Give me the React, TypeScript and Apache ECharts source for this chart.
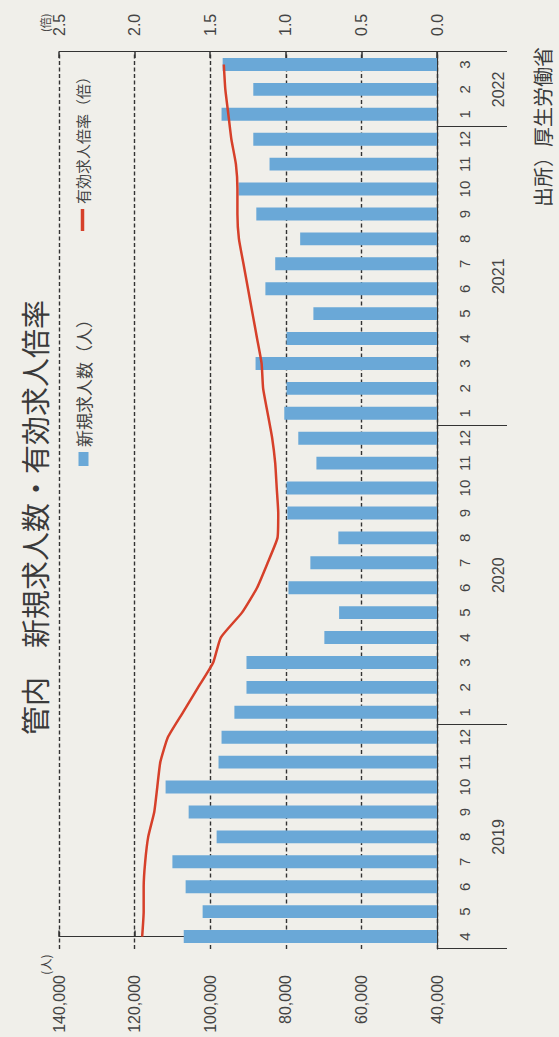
import React, { useEffect, useRef } from 'react';
import * as echarts from 'echarts';

// ---- data ----
const categories = [
  '2019/4', '2019/5', '2019/6', '2019/7', '2019/8', '2019/9', '2019/10', '2019/11', '2019/12',
  '2020/1', '2020/2', '2020/3', '2020/4', '2020/5', '2020/6', '2020/7', '2020/8', '2020/9', '2020/10', '2020/11', '2020/12',
  '2021/1', '2021/2', '2021/3', '2021/4', '2021/5', '2021/6', '2021/7', '2021/8', '2021/9', '2021/10', '2021/11', '2021/12',
  '2022/1', '2022/2', '2022/3',
];

// 新規求人数（人）
const newJobOffers = [
  107000, 102000, 106500, 110000, 98300, 105700, 111800, 97800, 97000,
  93600, 90400, 90400, 69800, 65900, 79300, 73500, 66100, 79600, 79800, 71900, 76700,
  80400, 79800, 88000, 79800, 72700, 85400, 82800, 76200, 87800, 92500, 84300, 88600,
  97000, 88600, 96700,
];

// 有効求人倍率（倍）
const jobsRatio = [
  1.95, 1.94, 1.94, 1.93, 1.91, 1.87, 1.85, 1.83, 1.78,
  1.68, 1.58, 1.48, 1.43, 1.29, 1.19, 1.12, 1.055, 1.05, 1.06, 1.07, 1.09,
  1.12, 1.15, 1.16, 1.19, 1.22, 1.25, 1.28, 1.31, 1.32, 1.32, 1.33, 1.36,
  1.38, 1.40, 1.41,
];

const personsAxis = { min: 40000, max: 140000, step: 20000 };
const ratioAxis = { min: 0, max: 2.5, step: 0.5 };

const titleText = '管内　新規求人数・有効求人倍率';
const sourceText = '出所）厚生労働省';
const seriesNames = ['新規求人数（人）', '有効求人倍率（倍）'];

// derived helpers
const monthLabels = categories.map((c) => c.split('/')[1]);
const yearOf = categories.map((c) => c.split('/')[0]);
const years = Array.from(new Set(yearOf));
const yearCenters = years.map((y) => {
  const first = yearOf.indexOf(y);
  const last = yearOf.lastIndexOf(y);
  return (first + last) / 2;
});
const yearSeparators = [
  ...years.map((y) => yearOf.indexOf(y) - 0.5),
  categories.length - 0.5,
];

const W = 1037;
const H = 559;
const INK = '#333';
const LABEL = '#444';
const NUM_FONT = '"Liberation Sans", Arial, sans-serif';
const JP_FONT = '"Noto Sans CJK JP", sans-serif';

export default function App() {
  const ref = useRef<HTMLDivElement>(null);

  useEffect(() => {
    if (!ref.current) return;
    const chart = echarts.init(ref.current, undefined, { renderer: 'svg', width: W, height: H });
    chart.setOption({
      animation: false,
      backgroundColor: '#f0efea',
      title: [
        {
          text: titleText,
          left: 297,
          top: 14,
          textStyle: { fontSize: 29, fontWeight: 'normal', color: '#3a3a3a', fontFamily: JP_FONT },
        },
        {
          text: sourceText,
          right: 42,
          top: 527,
          textStyle: { fontSize: 20, fontWeight: 'normal', color: '#3a3a3a', fontFamily: JP_FONT },
        },
      ],
      legend: [
        {
          data: [seriesNames[0]],
          left: 566,
          top: 70,
          icon: 'rect',
          itemWidth: 14,
          itemHeight: 10,
          textStyle: { fontSize: 17, color: LABEL, fontFamily: JP_FONT },
        },
        {
          data: [seriesNames[1]],
          left: 801,
          top: 70,
          icon: 'rect',
          itemWidth: 22,
          itemHeight: 3.5,
          textStyle: { fontSize: 15, color: LABEL, fontFamily: JP_FONT },
        },
      ],
      grid: { left: 88, right: 52, top: 59, bottom: 122, containLabel: false },
      xAxis: [
        {
          type: 'category',
          data: categories,
          position: 'bottom',
          axisLine: { show: true, onZero: false, lineStyle: { color: INK, width: 1.2 } },
          axisTick: { show: false },
          axisLabel: {
            interval: 0,
            margin: 20,
            fontSize: 15,
            color: LABEL,
            fontFamily: NUM_FONT,
            formatter: (_v: string, i: number) => monthLabels[i],
          },
          splitLine: { show: false },
        },
        {
          type: 'value',
          position: 'bottom',
          min: -0.5,
          max: categories.length - 0.5,
          axisLine: { show: false, onZero: false },
          splitLine: { show: false },
          axisTick: {
            show: true,
            customValues: yearSeparators,
            length: 70,
            lineStyle: { color: INK, width: 1.2 },
          },
          axisLabel: {
            show: true,
            customValues: yearCenters,
            margin: 53,
            fontSize: 16,
            color: LABEL,
            fontFamily: NUM_FONT,
            formatter: (v: number) => {
              const k = yearCenters.findIndex((c) => Math.abs(c - v) < 1e-6);
              return k >= 0 ? years[k] : '';
            },
          },
        },
      ],
      yAxis: [
        {
          type: 'value',
          min: personsAxis.min,
          max: personsAxis.max,
          interval: personsAxis.step,
          name: '(人)',
          nameLocation: 'end',
          nameGap: 7,
          nameTextStyle: { fontSize: 12, color: LABEL, align: 'right', padding: [0, 18, 0, 0], fontFamily: JP_FONT },
          axisLine: { show: true, lineStyle: { color: INK, width: 1.2 } },
          axisTick: { show: true, inside: true, length: 6, lineStyle: { color: INK, width: 1.5 } },
          axisLabel: {
            margin: 26,
            fontSize: 16,
            color: LABEL,
            fontFamily: NUM_FONT,
            formatter: (v: number) => v.toLocaleString('en-US'),
          },
          splitLine: { show: true, lineStyle: { color: INK, width: 1.4, type: [4, 2.5] } },
        },
        {
          type: 'value',
          min: ratioAxis.min,
          max: ratioAxis.max,
          interval: ratioAxis.step,
          position: 'right',
          name: '(倍)',
          nameLocation: 'end',
          nameGap: 9,
          nameTextStyle: { fontSize: 11, color: LABEL, align: 'left', padding: [0, 0, 0, 20], fontFamily: JP_FONT },
          axisLine: { show: true, lineStyle: { color: INK, width: 1.2 } },
          axisTick: { show: true, inside: true, length: 6, lineStyle: { color: INK, width: 1.5 } },
          axisLabel: {
            margin: 16,
            fontSize: 16,
            color: LABEL,
            fontFamily: NUM_FONT,
            formatter: (v: number) => v.toFixed(1),
          },
          splitLine: { show: false },
        },
      ],
      series: [
        {
          name: seriesNames[0],
          type: 'bar',
          xAxisIndex: 0,
          yAxisIndex: 0,
          data: newJobOffers,
          barWidth: '52%',
          itemStyle: { color: '#6aa8d7' },
        },
        {
          name: seriesNames[1],
          type: 'line',
          xAxisIndex: 0,
          yAxisIndex: 1,
          data: jobsRatio,
          symbol: 'none',
          smooth: 0.15,
          lineStyle: { color: '#d6402a', width: 2.5 },
          itemStyle: { color: '#d6402a' },
        },
      ],
    });
    return () => chart.dispose();
  }, []);

  return (
    <div
      style={{
        position: 'fixed',
        left: 0,
        top: 0,
        width: 559,
        height: 1037,
        overflow: 'hidden',
        background: '#f0efea',
      }}
    >
      <div
        ref={ref}
        style={{
          position: 'absolute',
          left: 0,
          top: 0,
          width: W,
          height: H,
          transformOrigin: '0 0',
          transform: 'translateY(1037px) rotate(-90deg)',
        }}
      />
    </div>
  );
}
